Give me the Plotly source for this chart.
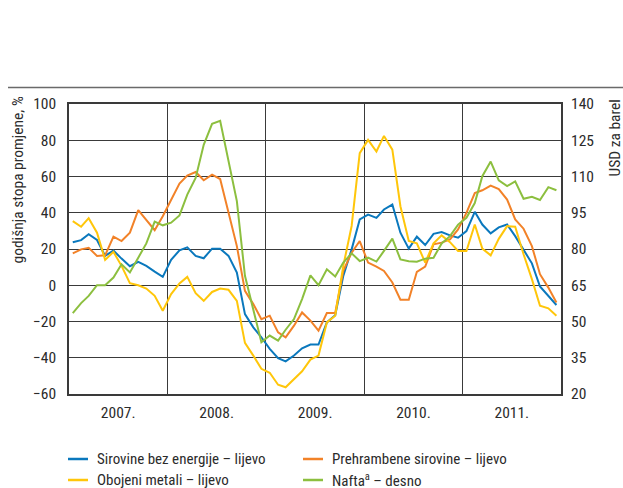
import pandas as pd
import plotly.graph_objects as go

# Monthly observations, Jan 2007 - Dec 2011 (plotted at mid-month)
months = pd.date_range("2007-01-01", periods=60, freq="MS") + pd.Timedelta(days=14)

sirovine_bez_energije = [
    23.7, 24.9, 28.2, 25.0, 16.2, 19.1, 14.7, 10.5, 12.9, 10.7, 7.5, 4.6,
    14.0, 19.3, 20.9, 16.2, 14.9, 20.2, 20.2, 16.2, 7.0, -15.9, -23.2, -28.7,
    -35.1, -40.2, -42.0, -38.8, -34.8, -32.7, -32.7, -20.5, -16.5, 5.2, 19.8, 36.3,
    39.0, 37.2, 41.8, 44.5, 29.0, 20.2, 26.8, 22.2, 28.4, 29.3, 27.5, 26.2,
    29.9, 40.5, 33.5, 28.6, 31.9, 33.5, 27.1, 19.8, 12.1, -0.7, -5.8, -10.9,
]
prehrambene_sirovine = [
    17.6, 19.8, 20.7, 16.2, 16.5, 26.8, 24.4, 29.0, 41.4, 36.3, 30.4, 38.1,
    47.3, 56.1, 60.5, 62.5, 57.9, 61.0, 58.6, 40.3, 21.6, -3.1, -10.4, -18.7,
    -16.8, -26.0, -28.7, -22.3, -15.0, -19.5, -25.0, -15.3, -15.3, 7.9, 18.0, 24.4,
    12.5, 10.3, 7.9, 1.5, -8.0, -8.0, 7.4, 10.3, 22.6, 23.5, 25.3, 30.8,
    39.9, 50.9, 52.4, 55.0, 53.1, 47.3, 36.3, 31.2, 21.6, 6.1, -1.3, -9.5,
]
obojeni_metali = [
    35.4, 32.3, 37.0, 29.0, 14.0, 18.4, 10.7, 1.1, 0.0, -1.8, -5.8, -14.1,
    -4.9, 1.0, 4.6, -4.4, -8.6, -3.7, -1.8, -2.5, -8.6, -31.8, -38.8, -46.1,
    -48.3, -54.9, -56.3, -51.9, -47.5, -41.0, -38.8, -20.5, -16.8, 10.7, 32.7, 72.9,
    80.2, 73.8, 82.4, 74.8, 43.6, 24.4, 23.1, 12.5, 23.1, 27.5, 23.8, 18.9,
    18.9, 33.5, 20.2, 16.5, 25.6, 32.6, 32.3, 17.1, 3.4, -11.3, -12.7, -16.8,
]
nafta_usd = [
    53.5, 57.6, 60.6, 65.0, 65.0, 68.2, 73.7, 70.3, 76.4, 82.3, 91.3, 89.8,
    90.9, 93.9, 102.5, 109.4, 123.1, 131.8, 133.0, 116.2, 99.8, 68.9, 54.4, 41.4,
    44.2, 42.1, 46.6, 51.0, 59.3, 69.1, 65.0, 71.6, 68.6, 74.4, 78.2, 75.0,
    76.4, 74.8, 79.2, 84.3, 75.7, 74.9, 74.7, 76.0, 76.4, 82.3, 85.3, 90.1,
    92.9, 99.0, 110.1, 116.2, 108.4, 106.0, 108.0, 100.8, 101.6, 100.3, 105.6, 104.3,
]

series_names = [
    "Sirovine bez energije – lijevo",
    "Prehrambene sirovine – lijevo",
    "Obojeni metali – lijevo",
    "Nafta<sup>a</sup> – desno",
]
colors = ["#0a78bd", "#f28228", "#ffc60a", "#8cbf3f"]

FONT = "Liberation Sans Narrow, Arial Narrow, Roboto Condensed, Liberation Sans, sans-serif"
TXT = "#2b2b2b"
GRID = "#3a3a3a"

fig = go.Figure()
left_series = [sirovine_bez_energije, prehrambene_sirovine, obojeni_metali]
for name, vals, col in zip(series_names[:3], left_series, colors[:3]):
    fig.add_trace(go.Scatter(x=months, y=vals, name=name, mode="lines",
                             line=dict(color=col, width=2), yaxis="y"))
fig.add_trace(go.Scatter(x=months, y=nafta_usd, name=series_names[3], mode="lines",
                         line=dict(color=colors[3], width=2), yaxis="y2"))

fig.update_layout(
    width=623, height=488,
    margin=dict(l=69, r=62, t=104, b=94),
    paper_bgcolor="white", plot_bgcolor="white",
    showlegend=False,
    font=dict(family=FONT, size=15, color=TXT),
    xaxis=dict(
        type="date",
        range=["2007-01-01", "2012-01-01"],
        dtick="M12", tick0="2007-01-01",
        tickformat="%Y.", ticklabelmode="period",
        showgrid=True, gridcolor=GRID, gridwidth=1.3,
        showline=True, linecolor=GRID, linewidth=1.5, mirror=True,
        ticks="", zeroline=False, ticklabelstandoff=4,
        tickfont=dict(family=FONT, size=15.5, color=TXT),
    ),
    yaxis=dict(
        range=[-60, 100], dtick=20, tick0=-60,
        showgrid=True, gridcolor=GRID, gridwidth=1.2,
        zeroline=False,
        showline=True, linecolor=GRID, linewidth=1.5, mirror=True,
        ticks="", ticklabelstandoff=8,
        tickfont=dict(family=FONT, size=15.5, color=TXT),
    ),
    yaxis2=dict(
        range=[20, 140], dtick=15, tick0=20,
        overlaying="y", side="right",
        showgrid=False, zeroline=False, showline=False,
        ticks="", ticklabelstandoff=9,
        tickfont=dict(family=FONT, size=15.5, color=TXT),
    ),
)

def px_x(p):
    return (p - 69) / 492.0

def px_y(p):
    return (394 - p) / 290.0

# top rule
fig.add_shape(type="line", xref="paper", yref="paper",
              x0=px_x(8), x1=px_x(623), y0=px_y(87.5), y1=px_y(87.5),
              line=dict(color="#6a6a6a", width=1.5))

# axis titles
fig.add_annotation(text="godišnja stopa promjene, %", xref="paper", yref="paper",
                   x=px_x(17), y=px_y(95), xanchor="center", yanchor="top",
                   textangle=-90, showarrow=False,
                   font=dict(family=FONT, size=15.5, color=TXT))
fig.add_annotation(text="USD za barel", xref="paper", yref="paper",
                   x=px_x(614), y=px_y(98), xanchor="center", yanchor="top",
                   textangle=-90, showarrow=False,
                   font=dict(family=FONT, size=15.5, color=TXT))

# manual legend (2 columns)
legend_pos = [(68, 459), (303, 459), (68, 480), (303, 480)]
for idx, (lx, ly) in enumerate(legend_pos):
    fig.add_shape(type="line", xref="paper", yref="paper",
                  x0=px_x(lx), x1=px_x(lx + 20), y0=px_y(ly), y1=px_y(ly),
                  line=dict(color=colors[idx], width=2.5))
    fig.add_annotation(text=series_names[idx], xref="paper", yref="paper",
                       x=px_x(lx + 27), y=px_y(ly), xanchor="left", yanchor="middle",
                       showarrow=False,
                       font=dict(family=FONT, size=15, color=TXT))

fig.write_html("out.html",
               config={"displayModeBar": False},
               post_script="document.body.style.margin='0px';document.body.style.padding='0px';")
